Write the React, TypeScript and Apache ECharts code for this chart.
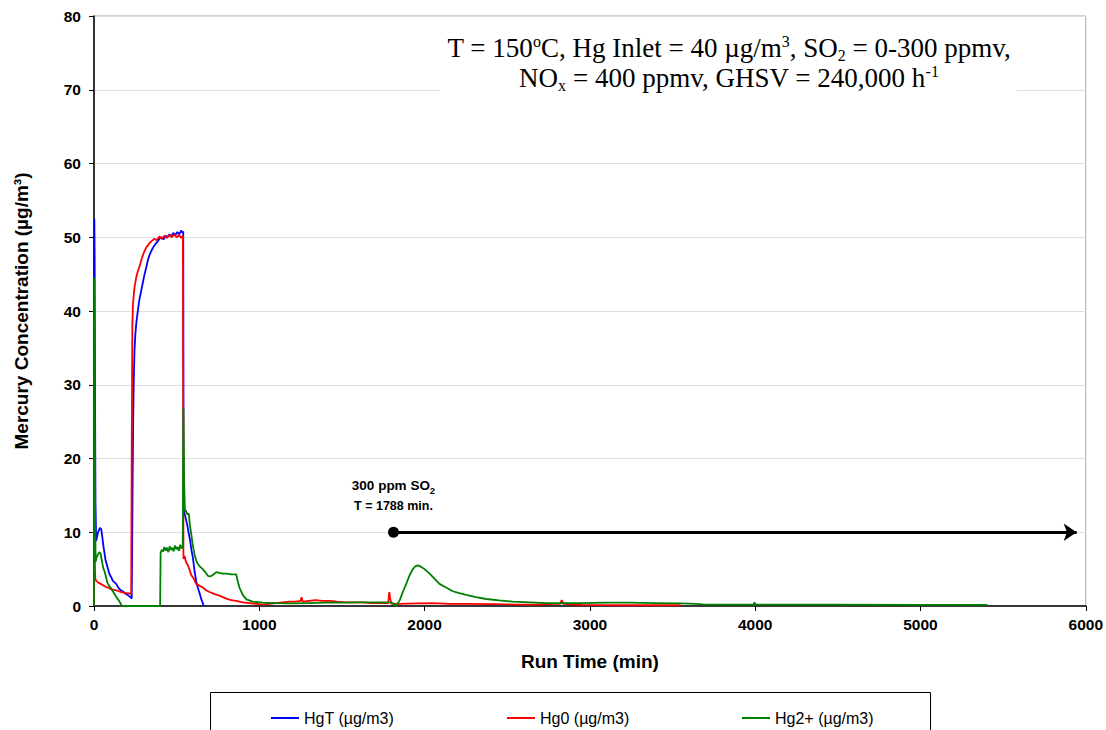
import React, { useEffect, useRef } from "react";
import * as echarts from "echarts";

// ---------------- data ----------------
const seriesNames = ["HgT (µg/m3)", "Hg0 (µg/m3)", "Hg2+ (µg/m3)"];
const seriesColors = ["#0000FF", "#FF0000", "#008000"];

const xMin = 0;
const xMax = 6000;
const xStep = 1000;
const yMin = 0;
const yMax = 80;
const yStep = 10;

// [run time (min), concentration (µg/m3)]
const hgT: [number, number][] = [
  [0, 0], [2, 52.5], [4, 47], [6, 30], [9, 14], [13, 8.8], [18, 9.3], [24, 10.0], [30, 10.3], [36, 10.6],
  [44, 10.4], [50, 9.4], [56, 8.3], [62, 7.4], [70, 6.2], [78, 5.6], [86, 4.9], [94, 4.3], [104, 3.9],
  [114, 3.4], [124, 3.2], [134, 3.0], [144, 2.6], [154, 2.3], [164, 2.1], [174, 2.0], [184, 1.8], [194, 1.6],
  [204, 1.5], [214, 1.3], [222, 1.2], [228, 1.0], [231, 8], [234, 18], [237, 25], [240, 30], [245, 34.6],
  [250, 36.8], [256, 38.4], [265, 40.0], [275, 41.6], [285, 42.7], [295, 43.8], [305, 44.9], [316, 45.9],
  [326, 46.9], [336, 47.6], [348, 48.2], [360, 48.7], [372, 49.1], [384, 49.4], [396, 49.8], [408, 50.0],
  [420, 49.7], [432, 50.2], [444, 50.0], [456, 50.4], [468, 50.1], [480, 50.6], [492, 50.3], [504, 50.7],
  [516, 50.4], [527, 50.9], [536, 50.6], [540, 50.8], [542, 14], [548, 12.5], [556, 11.8], [564, 11.0],
  [572, 10.0], [582, 8.8], [590, 7.5], [598, 6.6], [608, 4.8], [618, 3.4], [628, 2.5], [638, 1.8],
  [648, 1.0], [658, 0.4], [664, 0],
];

const hg0: [number, number][] = [
  [0, 0], [2, 16], [4, 8], [7, 3.8], [13, 3.4], [25, 3.2], [40, 3.0], [55, 2.8], [70, 2.6], [85, 2.5],
  [100, 2.3], [120, 2.2], [140, 2.1], [160, 1.9], [180, 1.8], [200, 1.7], [215, 1.7], [225, 1.6], [228, 20],
  [232, 38], [236, 41], [245, 43.2], [255, 44.5], [265, 45.4], [275, 46.0], [290, 47.2], [305, 48.1],
  [316, 48.6], [326, 48.9], [340, 49.3], [355, 49.6], [366, 49.8], [380, 49.6], [395, 50.1], [410, 49.8],
  [425, 50.2], [440, 49.9], [455, 50.3], [470, 50.0], [485, 50.4], [500, 50.0], [515, 50.3], [528, 49.9],
  [538, 50.2], [541, 6.4], [548, 6.8], [556, 6.0], [566, 5.6], [577, 5.0], [588, 4.2], [601, 3.8],
  [618, 3.0], [635, 2.8], [658, 2.5], [680, 2.1], [699, 1.9], [730, 1.6], [759, 1.4], [800, 1.0],
  [830, 0.8], [860, 0.7], [900, 0.5], [940, 0.4], [981, 0.3], [1020, 0.2], [1062, 0.3], [1100, 0.4],
  [1140, 0.5], [1183, 0.6], [1220, 0.6], [1250, 0.7], [1256, 1.2], [1262, 0.6], [1300, 0.7], [1340, 0.8],
  [1380, 0.7], [1425, 0.7], [1470, 0.6], [1520, 0.5], [1570, 0.5], [1626, 0.5], [1680, 0.4], [1740, 0.4],
  [1780, 0.4], [1786, 1.9], [1792, 1.0], [1800, 0.3], [1850, 0.3], [1950, 0.35], [2050, 0.4], [2150, 0.3],
  [2250, 0.3], [2400, 0.25], [2550, 0.2], [2700, 0.2], [2780, 0.3], [2820, 0.3], [2830, 0.8], [2840, 0.3],
  [2950, 0.15], [3200, 0.1], [3550, 0.1],
];

const hg2: [number, number][] = [
  [0, 0], [1, 44.5], [4, 30], [7, 12], [10, 6.0], [16, 6.6], [24, 7.0], [32, 7.3], [40, 7.1], [46, 6.3],
  [52, 5.6], [58, 5.0], [64, 4.7], [72, 4.0], [80, 3.2], [90, 2.8], [100, 2.5], [114, 2.0], [125, 1.6],
  [135, 1.2], [145, 0.9], [154, 0.6], [162, 0.3], [168, 0], [400, 0], [403, 7.2], [410, 7.6], [418, 7.4],
  [426, 8.0], [434, 7.5], [442, 7.9], [450, 7.3], [458, 8.1], [466, 7.6], [474, 7.9], [482, 7.4],
  [490, 8.2], [498, 7.7], [506, 8.0], [514, 7.5], [522, 8.3], [530, 7.8], [537, 8.1], [541, 26.9],
  [545, 17], [550, 13.0], [557, 12.9], [566, 12.4], [574, 12.5], [580, 11.0], [588, 9.8], [598, 8.2],
  [608, 7.0], [618, 6.2], [628, 5.7], [643, 5.3], [658, 5.0], [673, 4.6], [689, 4.1], [704, 4.0],
  [719, 4.2], [740, 4.6], [759, 4.5], [780, 4.4], [800, 4.4], [830, 4.3], [860, 4.3], [868, 3.5],
  [880, 2.5], [900, 1.5], [922, 0.9], [960, 0.6], [1021, 0.45], [1100, 0.4], [1200, 0.35], [1300, 0.4],
  [1400, 0.45], [1500, 0.45], [1600, 0.5], [1700, 0.5], [1790, 0.5], [1806, 0.4], [1828, 0.0], [1850, 0.8],
  [1870, 2.0], [1889, 3.0], [1910, 4.2], [1929, 5.0], [1945, 5.4], [1960, 5.5], [1980, 5.3], [2000, 5.0],
  [2030, 4.4], [2060, 3.7], [2090, 3.0], [2130, 2.5], [2170, 2.0], [2210, 1.75], [2252, 1.5], [2310, 1.2],
  [2373, 0.95], [2450, 0.75], [2533, 0.6], [2640, 0.5], [2736, 0.4], [2850, 0.4], [2937, 0.4], [3100, 0.45],
  [3240, 0.45], [3400, 0.4], [3550, 0.35], [3643, 0.3], [3700, 0.2], [3990, 0.2], [3996, 0.5], [4002, 0.2],
  [4500, 0.2], [5000, 0.15], [5406, 0.15],
];

// annotation: SO2 introduction arrow
const annotStart = 1812;
const annotEnd = 5945;
const annotLevel = 10;
const annotLine1 = "300 ppm SO";
const annotLine2 = "T = 1788 min.";

const sans = "'Liberation Sans', Arial, Helvetica, sans-serif";
const serif = "'Liberation Serif', 'Times New Roman', Times, serif";

export default function App() {
  const ref = useRef<HTMLDivElement>(null);

  useEffect(() => {
    if (!ref.current) return;
    const chart = echarts.init(ref.current, null, { renderer: "svg" });

    const dataSets = [hgT, hg0, hg2];
    const lineSeries = dataSets.map((d, i) => ({
      name: seriesNames[i],
      type: "line",
      data: d,
      showSymbol: false,
      symbol: "none",
      color: seriesColors[i],
      lineStyle: { color: seriesColors[i], width: 1.8 },
      z: 3 + i,
    }));

    const legendLefts = [266, 502, 737];
    const legends = seriesNames.map((nm, i) => ({
      data: [nm],
      left: legendLefts[i],
      top: 705,
      icon: "rect",
      itemWidth: 28,
      itemHeight: 2,
      itemGap: 0,
      selectedMode: false,
      textStyle: { fontFamily: sans, fontSize: 16, color: "#000" },
    }));

    const n = { fontFamily: serif, fontSize: 27, lineHeight: 30, color: "#000" };
    const sp = { fontFamily: serif, fontSize: 16, lineHeight: 16, verticalAlign: "top", color: "#000" };
    const sb = { fontFamily: serif, fontSize: 16, lineHeight: 16, verticalAlign: "bottom", color: "#000" };

    const option: any = {
      animation: false,
      backgroundColor: "#fff",
      grid: {
        left: 94,
        right: 20,
        top: 16,
        bottom: 124,
        show: true,
        borderColor: "#a6a6a6",
        borderWidth: 1,
      },
      legend: legends,
      xAxis: {
        type: "value",
        min: xMin,
        max: xMax,
        interval: xStep,
        name: "Run Time (min)",
        nameLocation: "middle",
        nameGap: 46,
        nameTextStyle: { fontFamily: sans, fontSize: 19, fontWeight: "bold", color: "#000" },
        axisLine: { show: true, onZero: false, lineStyle: { color: "#000", width: 1.5 } },
        axisTick: { show: true, length: 5, lineStyle: { color: "#000", width: 1 } },
        axisLabel: {
          fontFamily: sans,
          fontSize: 15.5,
          fontWeight: "bold",
          color: "#000",
          margin: 10,
          formatter: (v: number) => String(v),
        },
        splitLine: { show: false },
      },
      yAxis: {
        type: "value",
        min: yMin,
        max: yMax,
        interval: yStep,
        name: "Mercury Concentration (µg/m³)",
        nameLocation: "middle",
        nameRotate: 90,
        nameGap: 63,
        nameTextStyle: { fontFamily: sans, fontSize: 19, fontWeight: "bold", color: "#000" },
        axisLine: { show: true, onZero: false, lineStyle: { color: "#000", width: 1.5 } },
        axisTick: { show: true, length: 5, lineStyle: { color: "#000", width: 1 } },
        axisLabel: {
          fontFamily: sans,
          fontSize: 15.5,
          fontWeight: "bold",
          color: "#000",
          margin: 13,
          formatter: (v: number) => String(v),
        },
        splitLine: { show: true, lineStyle: { color: "#dedede", width: 1 } },
      },
      series: [
        ...lineSeries,
        {
          name: "annotation",
          type: "line",
          data: [[annotStart, annotLevel]],
          symbol: "none",
          showSymbol: false,
          lineStyle: { width: 0 },
          z: 10,
          markLine: {
            silent: true,
            symbol: ["none", "arrow"],
            symbolSize: 13,
            lineStyle: { color: "#000", width: 3, type: "solid" },
            label: { show: false },
            data: [[{ coord: [annotStart, annotLevel] }, { coord: [annotEnd, annotLevel] }]],
          },
          markPoint: {
            silent: true,
            symbol: "circle",
            symbolSize: 11,
            itemStyle: { color: "#000" },
            data: [
              {
                coord: [annotStart, annotLevel],
                label: {
                  show: true,
                  position: "top",
                  distance: 11,
                  align: "center",
                  formatter: "{a|" + annotLine1 + "}{s|2}\n{b|" + annotLine2 + "}",
                  rich: {
                    a: { fontFamily: sans, fontSize: 13.5, fontWeight: "bold", color: "#000", lineHeight: 20, align: "center" },
                    s: { fontFamily: sans, fontSize: 9.5, fontWeight: "bold", color: "#000", lineHeight: 14, verticalAlign: "bottom", align: "center" },
                    b: { fontFamily: sans, fontSize: 12.5, fontWeight: "bold", color: "#000", lineHeight: 20, align: "center" },
                  },
                },
              },
            ],
          },
        },
      ],
      graphic: [
        {
          type: "rect",
          z: 50,
          silent: true,
          shape: { x: 440, y: 20, width: 577, height: 80 },
          style: { fill: "#fff" },
        },
        {
          type: "text",
          z: 51,
          silent: true,
          x: 729,
          y: 33,
          style: {
            text:
              "{n|T = 150}{sp|o}{n|C, Hg Inlet = 40 µg/m}{sp|3}{n|, SO}{sb|2}{n| = 0-300 ppmv,}\n" +
              "{n|NO}{sb|x}{n| = 400 ppmv, GHSV = 240,000 h}{sp|-1}",
            align: "center",
            verticalAlign: "top",
            rich: { n, sp, sb },
          },
        },
        {
          type: "rect",
          z: 50,
          silent: true,
          shape: { x: 210.5, y: 692.5, width: 720, height: 60 },
          style: { fill: "none", stroke: "#000", lineWidth: 1 },
        },
      ],
    };

    chart.setOption(option);
    return () => chart.dispose();
  }, []);

  return (
    <div
      ref={ref}
      style={{ position: "fixed", left: 0, top: 0, width: 1106, height: 730, background: "#fff" }}
    />
  );
}
